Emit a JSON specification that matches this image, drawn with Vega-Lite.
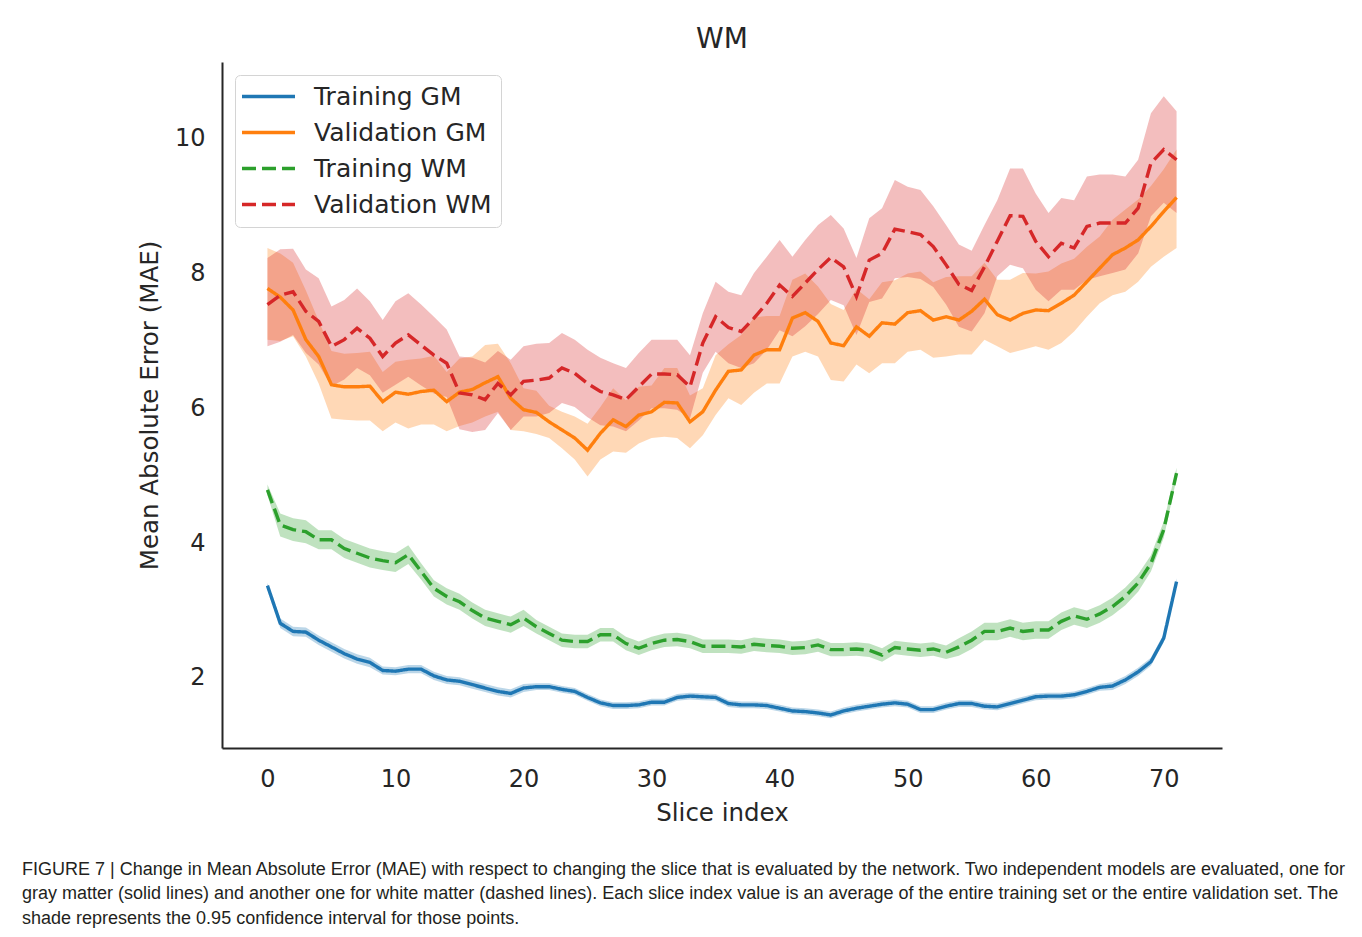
{
  "$schema": "https://vega.github.io/schema/vega-lite/v6.json",
  "background": "white",
  "padding": {"left": 22, "top": 26, "right": 10, "bottom": 10},
  "title": {
    "text": [
      "FIGURE 7 | Change in Mean Absolute Error (MAE) with respect to changing the slice that is evaluated by the network. Two independent models are evaluated, one for",
      "gray matter (solid lines) and another one for white matter (dashed lines). Each slice index value is an average of the entire training set or the entire validation set. The",
      "shade represents the 0.95 confidence interval for those points."
    ],
    "orient": "bottom",
    "anchor": "start",
    "frame": "group",
    "dx": -200,
    "offset": 36,
    "font": "Liberation Sans",
    "fontSize": 18,
    "fontWeight": "normal",
    "color": "#231f20",
    "lineHeight": 24.5
  },
  "vconcat": [
    {
      "width": 1000,
      "height": 686,
      "title": {"text": "WM", "fontSize": 28, "fontWeight": "normal", "color": "#262626", "font": "DejaVu Sans", "offset": 8, "anchor": "middle"},
      "data": {"values": [
{"s":"Training GM","x":0,"y":3.37,"lo":3.33,"hi":3.41},
{"s":"Training GM","x":1,"y":2.81,"lo":2.74,"hi":2.88},
{"s":"Training GM","x":2,"y":2.69,"lo":2.62,"hi":2.76},
{"s":"Training GM","x":3,"y":2.68,"lo":2.61,"hi":2.75},
{"s":"Training GM","x":4,"y":2.56,"lo":2.49,"hi":2.63},
{"s":"Training GM","x":5,"y":2.46,"lo":2.39,"hi":2.53},
{"s":"Training GM","x":6,"y":2.36,"lo":2.29,"hi":2.43},
{"s":"Training GM","x":7,"y":2.28,"lo":2.21,"hi":2.35},
{"s":"Training GM","x":8,"y":2.23,"lo":2.16,"hi":2.30},
{"s":"Training GM","x":9,"y":2.11,"lo":2.05,"hi":2.17},
{"s":"Training GM","x":10,"y":2.10,"lo":2.04,"hi":2.16},
{"s":"Training GM","x":11,"y":2.13,"lo":2.07,"hi":2.19},
{"s":"Training GM","x":12,"y":2.13,"lo":2.07,"hi":2.19},
{"s":"Training GM","x":13,"y":2.03,"lo":1.97,"hi":2.09},
{"s":"Training GM","x":14,"y":1.97,"lo":1.91,"hi":2.03},
{"s":"Training GM","x":15,"y":1.95,"lo":1.89,"hi":2.01},
{"s":"Training GM","x":16,"y":1.90,"lo":1.84,"hi":1.96},
{"s":"Training GM","x":17,"y":1.85,"lo":1.79,"hi":1.91},
{"s":"Training GM","x":18,"y":1.80,"lo":1.74,"hi":1.86},
{"s":"Training GM","x":19,"y":1.77,"lo":1.71,"hi":1.83},
{"s":"Training GM","x":20,"y":1.85,"lo":1.79,"hi":1.91},
{"s":"Training GM","x":21,"y":1.87,"lo":1.82,"hi":1.92},
{"s":"Training GM","x":22,"y":1.87,"lo":1.82,"hi":1.92},
{"s":"Training GM","x":23,"y":1.83,"lo":1.78,"hi":1.88},
{"s":"Training GM","x":24,"y":1.80,"lo":1.75,"hi":1.85},
{"s":"Training GM","x":25,"y":1.71,"lo":1.66,"hi":1.76},
{"s":"Training GM","x":26,"y":1.63,"lo":1.58,"hi":1.68},
{"s":"Training GM","x":27,"y":1.59,"lo":1.54,"hi":1.64},
{"s":"Training GM","x":28,"y":1.59,"lo":1.54,"hi":1.64},
{"s":"Training GM","x":29,"y":1.60,"lo":1.55,"hi":1.65},
{"s":"Training GM","x":30,"y":1.64,"lo":1.59,"hi":1.69},
{"s":"Training GM","x":31,"y":1.64,"lo":1.59,"hi":1.69},
{"s":"Training GM","x":32,"y":1.71,"lo":1.66,"hi":1.76},
{"s":"Training GM","x":33,"y":1.73,"lo":1.68,"hi":1.78},
{"s":"Training GM","x":34,"y":1.72,"lo":1.67,"hi":1.77},
{"s":"Training GM","x":35,"y":1.71,"lo":1.66,"hi":1.76},
{"s":"Training GM","x":36,"y":1.62,"lo":1.57,"hi":1.67},
{"s":"Training GM","x":37,"y":1.60,"lo":1.55,"hi":1.65},
{"s":"Training GM","x":38,"y":1.60,"lo":1.55,"hi":1.65},
{"s":"Training GM","x":39,"y":1.59,"lo":1.54,"hi":1.64},
{"s":"Training GM","x":40,"y":1.55,"lo":1.50,"hi":1.60},
{"s":"Training GM","x":41,"y":1.51,"lo":1.46,"hi":1.56},
{"s":"Training GM","x":42,"y":1.50,"lo":1.45,"hi":1.55},
{"s":"Training GM","x":43,"y":1.48,"lo":1.43,"hi":1.53},
{"s":"Training GM","x":44,"y":1.45,"lo":1.40,"hi":1.50},
{"s":"Training GM","x":45,"y":1.51,"lo":1.46,"hi":1.56},
{"s":"Training GM","x":46,"y":1.55,"lo":1.50,"hi":1.60},
{"s":"Training GM","x":47,"y":1.58,"lo":1.53,"hi":1.63},
{"s":"Training GM","x":48,"y":1.61,"lo":1.56,"hi":1.66},
{"s":"Training GM","x":49,"y":1.63,"lo":1.58,"hi":1.68},
{"s":"Training GM","x":50,"y":1.61,"lo":1.56,"hi":1.66},
{"s":"Training GM","x":51,"y":1.53,"lo":1.48,"hi":1.58},
{"s":"Training GM","x":52,"y":1.53,"lo":1.48,"hi":1.58},
{"s":"Training GM","x":53,"y":1.58,"lo":1.53,"hi":1.63},
{"s":"Training GM","x":54,"y":1.62,"lo":1.57,"hi":1.67},
{"s":"Training GM","x":55,"y":1.62,"lo":1.57,"hi":1.67},
{"s":"Training GM","x":56,"y":1.58,"lo":1.53,"hi":1.63},
{"s":"Training GM","x":57,"y":1.57,"lo":1.52,"hi":1.62},
{"s":"Training GM","x":58,"y":1.62,"lo":1.57,"hi":1.67},
{"s":"Training GM","x":59,"y":1.67,"lo":1.62,"hi":1.72},
{"s":"Training GM","x":60,"y":1.72,"lo":1.67,"hi":1.77},
{"s":"Training GM","x":61,"y":1.73,"lo":1.68,"hi":1.78},
{"s":"Training GM","x":62,"y":1.73,"lo":1.68,"hi":1.78},
{"s":"Training GM","x":63,"y":1.75,"lo":1.70,"hi":1.80},
{"s":"Training GM","x":64,"y":1.80,"lo":1.75,"hi":1.85},
{"s":"Training GM","x":65,"y":1.86,"lo":1.81,"hi":1.91},
{"s":"Training GM","x":66,"y":1.88,"lo":1.82,"hi":1.94},
{"s":"Training GM","x":67,"y":1.97,"lo":1.91,"hi":2.03},
{"s":"Training GM","x":68,"y":2.09,"lo":2.03,"hi":2.15},
{"s":"Training GM","x":69,"y":2.24,"lo":2.18,"hi":2.30},
{"s":"Training GM","x":70,"y":2.59,"lo":2.53,"hi":2.65},
{"s":"Training GM","x":71,"y":3.43,"lo":3.38,"hi":3.48},
{"s":"Validation GM","x":0,"y":7.78,"lo":7.02,"hi":8.38},
{"s":"Validation GM","x":1,"y":7.65,"lo":7.00,"hi":8.30},
{"s":"Validation GM","x":2,"y":7.46,"lo":7.07,"hi":8.16},
{"s":"Validation GM","x":3,"y":7.02,"lo":6.77,"hi":7.75},
{"s":"Validation GM","x":4,"y":6.77,"lo":6.37,"hi":7.30},
{"s":"Validation GM","x":5,"y":6.35,"lo":5.85,"hi":6.85},
{"s":"Validation GM","x":6,"y":6.32,"lo":5.83,"hi":6.81},
{"s":"Validation GM","x":7,"y":6.32,"lo":5.82,"hi":6.82},
{"s":"Validation GM","x":8,"y":6.33,"lo":5.82,"hi":6.84},
{"s":"Validation GM","x":9,"y":6.10,"lo":5.66,"hi":6.54},
{"s":"Validation GM","x":10,"y":6.24,"lo":5.79,"hi":6.69},
{"s":"Validation GM","x":11,"y":6.21,"lo":5.70,"hi":6.72},
{"s":"Validation GM","x":12,"y":6.25,"lo":5.76,"hi":6.74},
{"s":"Validation GM","x":13,"y":6.27,"lo":5.76,"hi":6.78},
{"s":"Validation GM","x":14,"y":6.10,"lo":5.66,"hi":6.54},
{"s":"Validation GM","x":15,"y":6.24,"lo":5.74,"hi":6.74},
{"s":"Validation GM","x":16,"y":6.28,"lo":5.79,"hi":6.77},
{"s":"Validation GM","x":17,"y":6.38,"lo":5.88,"hi":6.94},
{"s":"Validation GM","x":18,"y":6.47,"lo":5.95,"hi":6.96},
{"s":"Validation GM","x":19,"y":6.15,"lo":5.68,"hi":6.67},
{"s":"Validation GM","x":20,"y":5.98,"lo":5.66,"hi":6.30},
{"s":"Validation GM","x":21,"y":5.94,"lo":5.62,"hi":6.26},
{"s":"Validation GM","x":22,"y":5.80,"lo":5.56,"hi":6.04},
{"s":"Validation GM","x":23,"y":5.68,"lo":5.41,"hi":5.95},
{"s":"Validation GM","x":24,"y":5.56,"lo":5.24,"hi":5.88},
{"s":"Validation GM","x":25,"y":5.38,"lo":4.99,"hi":5.77},
{"s":"Validation GM","x":26,"y":5.63,"lo":5.24,"hi":6.02},
{"s":"Validation GM","x":27,"y":5.83,"lo":5.36,"hi":6.30},
{"s":"Validation GM","x":28,"y":5.73,"lo":5.34,"hi":6.12},
{"s":"Validation GM","x":29,"y":5.90,"lo":5.48,"hi":6.32},
{"s":"Validation GM","x":30,"y":5.95,"lo":5.56,"hi":6.34},
{"s":"Validation GM","x":31,"y":6.09,"lo":5.58,"hi":6.60},
{"s":"Validation GM","x":32,"y":6.08,"lo":5.56,"hi":6.60},
{"s":"Validation GM","x":33,"y":5.80,"lo":5.41,"hi":6.19},
{"s":"Validation GM","x":34,"y":5.95,"lo":5.60,"hi":6.30},
{"s":"Validation GM","x":35,"y":6.27,"lo":5.90,"hi":6.79},
{"s":"Validation GM","x":36,"y":6.55,"lo":6.15,"hi":6.95},
{"s":"Validation GM","x":37,"y":6.57,"lo":6.05,"hi":7.09},
{"s":"Validation GM","x":38,"y":6.79,"lo":6.23,"hi":7.35},
{"s":"Validation GM","x":39,"y":6.87,"lo":6.37,"hi":7.37},
{"s":"Validation GM","x":40,"y":6.87,"lo":6.37,"hi":7.37},
{"s":"Validation GM","x":41,"y":7.34,"lo":6.77,"hi":7.91},
{"s":"Validation GM","x":42,"y":7.42,"lo":6.84,"hi":8.00},
{"s":"Validation GM","x":43,"y":7.29,"lo":6.77,"hi":7.81},
{"s":"Validation GM","x":44,"y":6.97,"lo":6.42,"hi":7.55},
{"s":"Validation GM","x":45,"y":6.93,"lo":6.40,"hi":7.46},
{"s":"Validation GM","x":46,"y":7.21,"lo":6.65,"hi":7.77},
{"s":"Validation GM","x":47,"y":7.07,"lo":6.52,"hi":7.62},
{"s":"Validation GM","x":48,"y":7.27,"lo":6.67,"hi":7.87},
{"s":"Validation GM","x":49,"y":7.25,"lo":6.67,"hi":7.90},
{"s":"Validation GM","x":50,"y":7.42,"lo":6.84,"hi":8.00},
{"s":"Validation GM","x":51,"y":7.45,"lo":6.87,"hi":8.03},
{"s":"Validation GM","x":52,"y":7.31,"lo":6.75,"hi":7.87},
{"s":"Validation GM","x":53,"y":7.36,"lo":6.77,"hi":7.95},
{"s":"Validation GM","x":54,"y":7.31,"lo":6.80,"hi":7.96},
{"s":"Validation GM","x":55,"y":7.44,"lo":6.80,"hi":7.96},
{"s":"Validation GM","x":56,"y":7.62,"lo":7.02,"hi":8.16},
{"s":"Validation GM","x":57,"y":7.39,"lo":6.92,"hi":7.91},
{"s":"Validation GM","x":58,"y":7.31,"lo":6.82,"hi":7.91},
{"s":"Validation GM","x":59,"y":7.41,"lo":6.87,"hi":8.01},
{"s":"Validation GM","x":60,"y":7.46,"lo":6.92,"hi":8.00},
{"s":"Validation GM","x":61,"y":7.45,"lo":6.87,"hi":8.03},
{"s":"Validation GM","x":62,"y":7.56,"lo":6.97,"hi":8.15},
{"s":"Validation GM","x":63,"y":7.68,"lo":7.14,"hi":8.22},
{"s":"Validation GM","x":64,"y":7.88,"lo":7.36,"hi":8.40},
{"s":"Validation GM","x":65,"y":8.08,"lo":7.56,"hi":8.55},
{"s":"Validation GM","x":66,"y":8.28,"lo":7.68,"hi":8.80},
{"s":"Validation GM","x":67,"y":8.38,"lo":7.73,"hi":8.95},
{"s":"Validation GM","x":68,"y":8.50,"lo":7.88,"hi":9.10},
{"s":"Validation GM","x":69,"y":8.70,"lo":8.10,"hi":9.30},
{"s":"Validation GM","x":70,"y":8.92,"lo":8.25,"hi":9.55},
{"s":"Validation GM","x":71,"y":9.13,"lo":8.38,"hi":9.84},
{"s":"Training WM","x":0,"y":4.79,"lo":4.71,"hi":4.87},
{"s":"Training WM","x":1,"y":4.27,"lo":4.10,"hi":4.44},
{"s":"Training WM","x":2,"y":4.20,"lo":4.03,"hi":4.37},
{"s":"Training WM","x":3,"y":4.17,"lo":4.00,"hi":4.34},
{"s":"Training WM","x":4,"y":4.05,"lo":3.91,"hi":4.19},
{"s":"Training WM","x":5,"y":4.05,"lo":3.91,"hi":4.19},
{"s":"Training WM","x":6,"y":3.92,"lo":3.78,"hi":4.06},
{"s":"Training WM","x":7,"y":3.85,"lo":3.71,"hi":3.99},
{"s":"Training WM","x":8,"y":3.78,"lo":3.64,"hi":3.92},
{"s":"Training WM","x":9,"y":3.74,"lo":3.60,"hi":3.88},
{"s":"Training WM","x":10,"y":3.71,"lo":3.57,"hi":3.85},
{"s":"Training WM","x":11,"y":3.83,"lo":3.69,"hi":3.97},
{"s":"Training WM","x":12,"y":3.58,"lo":3.46,"hi":3.70},
{"s":"Training WM","x":13,"y":3.33,"lo":3.21,"hi":3.45},
{"s":"Training WM","x":14,"y":3.21,"lo":3.09,"hi":3.33},
{"s":"Training WM","x":15,"y":3.13,"lo":3.01,"hi":3.25},
{"s":"Training WM","x":16,"y":3.00,"lo":2.88,"hi":3.12},
{"s":"Training WM","x":17,"y":2.89,"lo":2.77,"hi":3.01},
{"s":"Training WM","x":18,"y":2.84,"lo":2.72,"hi":2.96},
{"s":"Training WM","x":19,"y":2.79,"lo":2.67,"hi":2.91},
{"s":"Training WM","x":20,"y":2.89,"lo":2.77,"hi":3.01},
{"s":"Training WM","x":21,"y":2.76,"lo":2.66,"hi":2.86},
{"s":"Training WM","x":22,"y":2.66,"lo":2.56,"hi":2.76},
{"s":"Training WM","x":23,"y":2.56,"lo":2.46,"hi":2.66},
{"s":"Training WM","x":24,"y":2.54,"lo":2.44,"hi":2.64},
{"s":"Training WM","x":25,"y":2.54,"lo":2.44,"hi":2.64},
{"s":"Training WM","x":26,"y":2.64,"lo":2.54,"hi":2.74},
{"s":"Training WM","x":27,"y":2.64,"lo":2.54,"hi":2.74},
{"s":"Training WM","x":28,"y":2.51,"lo":2.41,"hi":2.61},
{"s":"Training WM","x":29,"y":2.44,"lo":2.34,"hi":2.54},
{"s":"Training WM","x":30,"y":2.51,"lo":2.41,"hi":2.61},
{"s":"Training WM","x":31,"y":2.56,"lo":2.46,"hi":2.66},
{"s":"Training WM","x":32,"y":2.57,"lo":2.47,"hi":2.67},
{"s":"Training WM","x":33,"y":2.54,"lo":2.44,"hi":2.64},
{"s":"Training WM","x":34,"y":2.47,"lo":2.37,"hi":2.57},
{"s":"Training WM","x":35,"y":2.47,"lo":2.37,"hi":2.57},
{"s":"Training WM","x":36,"y":2.47,"lo":2.37,"hi":2.57},
{"s":"Training WM","x":37,"y":2.46,"lo":2.36,"hi":2.56},
{"s":"Training WM","x":38,"y":2.50,"lo":2.40,"hi":2.60},
{"s":"Training WM","x":39,"y":2.48,"lo":2.38,"hi":2.58},
{"s":"Training WM","x":40,"y":2.47,"lo":2.37,"hi":2.57},
{"s":"Training WM","x":41,"y":2.44,"lo":2.34,"hi":2.54},
{"s":"Training WM","x":42,"y":2.45,"lo":2.35,"hi":2.55},
{"s":"Training WM","x":43,"y":2.49,"lo":2.39,"hi":2.59},
{"s":"Training WM","x":44,"y":2.42,"lo":2.32,"hi":2.52},
{"s":"Training WM","x":45,"y":2.42,"lo":2.32,"hi":2.52},
{"s":"Training WM","x":46,"y":2.43,"lo":2.33,"hi":2.53},
{"s":"Training WM","x":47,"y":2.41,"lo":2.31,"hi":2.51},
{"s":"Training WM","x":48,"y":2.34,"lo":2.24,"hi":2.44},
{"s":"Training WM","x":49,"y":2.45,"lo":2.35,"hi":2.55},
{"s":"Training WM","x":50,"y":2.43,"lo":2.33,"hi":2.53},
{"s":"Training WM","x":51,"y":2.41,"lo":2.31,"hi":2.51},
{"s":"Training WM","x":52,"y":2.43,"lo":2.33,"hi":2.53},
{"s":"Training WM","x":53,"y":2.38,"lo":2.28,"hi":2.48},
{"s":"Training WM","x":54,"y":2.46,"lo":2.33,"hi":2.59},
{"s":"Training WM","x":55,"y":2.56,"lo":2.43,"hi":2.69},
{"s":"Training WM","x":56,"y":2.69,"lo":2.56,"hi":2.82},
{"s":"Training WM","x":57,"y":2.69,"lo":2.56,"hi":2.82},
{"s":"Training WM","x":58,"y":2.74,"lo":2.61,"hi":2.87},
{"s":"Training WM","x":59,"y":2.69,"lo":2.56,"hi":2.82},
{"s":"Training WM","x":60,"y":2.71,"lo":2.58,"hi":2.84},
{"s":"Training WM","x":61,"y":2.71,"lo":2.58,"hi":2.84},
{"s":"Training WM","x":62,"y":2.84,"lo":2.71,"hi":2.97},
{"s":"Training WM","x":63,"y":2.92,"lo":2.79,"hi":3.05},
{"s":"Training WM","x":64,"y":2.87,"lo":2.74,"hi":3.00},
{"s":"Training WM","x":65,"y":2.95,"lo":2.82,"hi":3.08},
{"s":"Training WM","x":66,"y":3.06,"lo":2.93,"hi":3.19},
{"s":"Training WM","x":67,"y":3.21,"lo":3.08,"hi":3.34},
{"s":"Training WM","x":68,"y":3.41,"lo":3.28,"hi":3.54},
{"s":"Training WM","x":69,"y":3.70,"lo":3.58,"hi":3.82},
{"s":"Training WM","x":70,"y":4.20,"lo":4.08,"hi":4.32},
{"s":"Training WM","x":71,"y":5.04,"lo":4.96,"hi":5.12},
{"s":"Validation WM","x":0,"y":7.54,"lo":6.92,"hi":8.23},
{"s":"Validation WM","x":1,"y":7.68,"lo":6.99,"hi":8.36},
{"s":"Validation WM","x":2,"y":7.73,"lo":7.09,"hi":8.37},
{"s":"Validation WM","x":3,"y":7.44,"lo":6.82,"hi":8.06},
{"s":"Validation WM","x":4,"y":7.29,"lo":6.65,"hi":7.93},
{"s":"Validation WM","x":5,"y":6.92,"lo":6.33,"hi":7.51},
{"s":"Validation WM","x":6,"y":7.02,"lo":6.43,"hi":7.61},
{"s":"Validation WM","x":7,"y":7.19,"lo":6.60,"hi":7.78},
{"s":"Validation WM","x":8,"y":7.04,"lo":6.49,"hi":7.59},
{"s":"Validation WM","x":9,"y":6.77,"lo":6.23,"hi":7.31},
{"s":"Validation WM","x":10,"y":6.97,"lo":6.35,"hi":7.59},
{"s":"Validation WM","x":11,"y":7.09,"lo":6.47,"hi":7.71},
{"s":"Validation WM","x":12,"y":6.94,"lo":6.34,"hi":7.54},
{"s":"Validation WM","x":13,"y":6.79,"lo":6.22,"hi":7.36},
{"s":"Validation WM","x":14,"y":6.67,"lo":6.17,"hi":7.17},
{"s":"Validation WM","x":15,"y":6.23,"lo":5.69,"hi":6.77},
{"s":"Validation WM","x":16,"y":6.20,"lo":5.65,"hi":6.75},
{"s":"Validation WM","x":17,"y":6.13,"lo":5.68,"hi":6.68},
{"s":"Validation WM","x":18,"y":6.37,"lo":5.93,"hi":6.85},
{"s":"Validation WM","x":19,"y":6.20,"lo":5.68,"hi":6.72},
{"s":"Validation WM","x":20,"y":6.40,"lo":5.88,"hi":6.92},
{"s":"Validation WM","x":21,"y":6.42,"lo":5.88,"hi":6.96},
{"s":"Validation WM","x":22,"y":6.45,"lo":5.93,"hi":6.97},
{"s":"Validation WM","x":23,"y":6.60,"lo":6.08,"hi":7.12},
{"s":"Validation WM","x":24,"y":6.52,"lo":6.02,"hi":7.02},
{"s":"Validation WM","x":25,"y":6.37,"lo":5.87,"hi":6.87},
{"s":"Validation WM","x":26,"y":6.25,"lo":5.75,"hi":6.75},
{"s":"Validation WM","x":27,"y":6.20,"lo":5.73,"hi":6.67},
{"s":"Validation WM","x":28,"y":6.13,"lo":5.66,"hi":6.60},
{"s":"Validation WM","x":29,"y":6.32,"lo":5.82,"hi":6.82},
{"s":"Validation WM","x":30,"y":6.51,"lo":6.00,"hi":7.02},
{"s":"Validation WM","x":31,"y":6.51,"lo":6.00,"hi":7.02},
{"s":"Validation WM","x":32,"y":6.50,"lo":5.98,"hi":7.02},
{"s":"Validation WM","x":33,"y":6.32,"lo":5.85,"hi":6.79},
{"s":"Validation WM","x":34,"y":6.97,"lo":6.53,"hi":7.41},
{"s":"Validation WM","x":35,"y":7.36,"lo":6.84,"hi":7.88},
{"s":"Validation WM","x":36,"y":7.20,"lo":6.67,"hi":7.73},
{"s":"Validation WM","x":37,"y":7.14,"lo":6.60,"hi":7.68},
{"s":"Validation WM","x":38,"y":7.34,"lo":6.67,"hi":8.01},
{"s":"Validation WM","x":39,"y":7.56,"lo":6.87,"hi":8.25},
{"s":"Validation WM","x":40,"y":7.83,"lo":7.16,"hi":8.50},
{"s":"Validation WM","x":41,"y":7.66,"lo":7.07,"hi":8.25},
{"s":"Validation WM","x":42,"y":7.86,"lo":7.22,"hi":8.50},
{"s":"Validation WM","x":43,"y":8.06,"lo":7.40,"hi":8.72},
{"s":"Validation WM","x":44,"y":8.24,"lo":7.61,"hi":8.87},
{"s":"Validation WM","x":45,"y":8.10,"lo":7.53,"hi":8.67},
{"s":"Validation WM","x":46,"y":7.66,"lo":7.09,"hi":8.23},
{"s":"Validation WM","x":47,"y":8.20,"lo":7.58,"hi":8.82},
{"s":"Validation WM","x":48,"y":8.30,"lo":7.63,"hi":8.97},
{"s":"Validation WM","x":49,"y":8.66,"lo":7.93,"hi":9.39},
{"s":"Validation WM","x":50,"y":8.62,"lo":7.95,"hi":9.29},
{"s":"Validation WM","x":51,"y":8.58,"lo":7.92,"hi":9.24},
{"s":"Validation WM","x":52,"y":8.40,"lo":7.80,"hi":9.00},
{"s":"Validation WM","x":53,"y":8.13,"lo":7.54,"hi":8.72},
{"s":"Validation WM","x":54,"y":7.84,"lo":7.21,"hi":8.43},
{"s":"Validation WM","x":55,"y":7.75,"lo":7.14,"hi":8.34},
{"s":"Validation WM","x":56,"y":8.10,"lo":7.41,"hi":8.72},
{"s":"Validation WM","x":57,"y":8.48,"lo":7.96,"hi":9.09},
{"s":"Validation WM","x":58,"y":8.86,"lo":8.13,"hi":9.56},
{"s":"Validation WM","x":59,"y":8.85,"lo":8.08,"hi":9.56},
{"s":"Validation WM","x":60,"y":8.48,"lo":7.76,"hi":9.19},
{"s":"Validation WM","x":61,"y":8.25,"lo":7.59,"hi":8.90},
{"s":"Validation WM","x":62,"y":8.45,"lo":7.76,"hi":9.12},
{"s":"Validation WM","x":63,"y":8.38,"lo":7.76,"hi":9.09},
{"s":"Validation WM","x":64,"y":8.70,"lo":7.91,"hi":9.44},
{"s":"Validation WM","x":65,"y":8.75,"lo":7.96,"hi":9.47},
{"s":"Validation WM","x":66,"y":8.75,"lo":8.01,"hi":9.47},
{"s":"Validation WM","x":67,"y":8.75,"lo":8.06,"hi":9.44},
{"s":"Validation WM","x":68,"y":8.97,"lo":8.30,"hi":9.69},
{"s":"Validation WM","x":69,"y":9.64,"lo":8.85,"hi":10.38},
{"s":"Validation WM","x":70,"y":9.84,"lo":9.05,"hi":10.63},
{"s":"Validation WM","x":71,"y":9.69,"lo":8.90,"hi":10.41}
      ]},
      "encoding": {
        "x": {
          "field": "x", "type": "quantitative",
          "scale": {"domain": [-3.55, 74.55], "nice": false, "zero": false},
          "axis": {"values": [0, 10, 20, 30, 40, 50, 60, 70], "title": "Slice index", "format": "d"}
        }
      },
      "layer": [
        {
          "mark": {"type": "area", "opacity": 0.3},
          "encoding": {
            "y": {"field": "lo", "type": "quantitative"},
            "y2": {"field": "hi"},
            "fill": {
              "field": "s", "type": "nominal", "legend": null,
              "scale": {"domain": ["Validation WM", "Training WM", "Validation GM", "Training GM"], "range": ["#d62728", "#2ca02c", "#ff7f0e", "#1f77b4"]}
            }
          }
        },
        {
          "mark": {"type": "line", "strokeWidth": 3.4, "strokeCap": "butt"},
          "encoding": {
            "y": {
              "field": "y", "type": "quantitative",
              "scale": {"domain": [0.96, 11.14], "nice": false, "zero": false},
              "axis": {"values": [2, 4, 6, 8, 10], "title": "Mean Absolute Error (MAE)", "format": "d"}
            },
            "stroke": {
              "field": "s", "type": "nominal",
              "scale": {"domain": ["Training GM", "Validation GM", "Training WM", "Validation WM"], "range": ["#1f77b4", "#ff7f0e", "#2ca02c", "#d62728"]},
              "legend": {"title": null}
            },
            "strokeDash": {
              "field": "s", "type": "nominal",
              "scale": {"domain": ["Training GM", "Validation GM", "Training WM", "Validation WM"], "range": [[1, 0], [1, 0], [14, 6], [14, 6]]},
              "legend": {"title": null}
            }
          }
        }
      ]
    }
  ],
  "config": {
    "font": "DejaVu Sans",
    "view": {"stroke": null},
    "axis": {
      "grid": false,
      "ticks": false,
      "tickSize": 0,
      "domainColor": "#262626",
      "domainWidth": 2,
      "labelFont": "DejaVu Sans",
      "labelFontSize": 24,
      "labelColor": "#262626",
      "labelPadding": 17,
      "titleFont": "DejaVu Sans",
      "titleFontSize": 24.5,
      "titleFontWeight": "normal",
      "titleColor": "#262626"
    },
    "axisX": {"titlePadding": 10, "labelPadding": 19},
    "axisY": {"titlePadding": 12},
    "legend": {
      "orient": "top-left",
      "offset": 13,
      "padding": 9,
      "cornerRadius": 5,
      "strokeColor": "#d4d4d4",
      "fillColor": "#ffffff",
      "symbolType": "M-1.45,0H3.85",
      "symbolSize": 400,
      "symbolStrokeWidth": 3.4,
      "labelFont": "DejaVu Sans",
      "labelFontSize": 25,
      "labelColor": "#262626",
      "labelOffset": 45,
      "labelLimit": 400,
      "rowPadding": 10
    }
  }
}
